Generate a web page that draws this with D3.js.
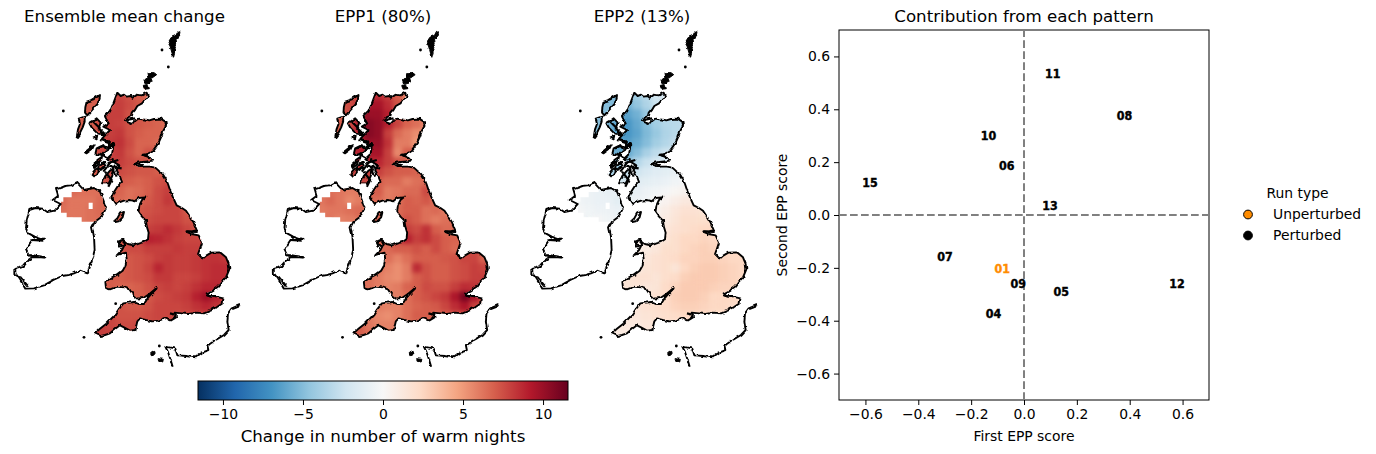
<!DOCTYPE html>
<html><head><meta charset="utf-8">
<script src="https://cdn.jsdelivr.net/npm/d3@7"></script>
<style>html,body{margin:0;background:#fff}svg{display:block}text{font-family:"DejaVu Sans",sans-serif;fill:#000}</style>
</head><body><svg id="c" width="1376" height="454"></svg>
<script>
const _ = null;
const panelTitles = ["Ensemble mean change","EPP1 (80%)","EPP2 (13%)"];
const runIds = ["01","04","05","06","07","08","09","10","11","12","13","15"];
const firstScore = [-0.082,-0.115,0.141,-0.065,-0.299,0.38,-0.022,-0.134,0.109,0.579,0.098,-0.583];
const secondScore = [-0.205,-0.375,-0.29,0.185,-0.156,0.375,-0.26,0.30,0.536,-0.26,0.034,0.124];
const scatterTicks = [-0.6,-0.4,-0.2,0,0.2,0.4,0.6];
const colorbarTicks = [-10,-5,0,5,10];
const rdbuStops = ["#053061","#2166ac","#4393c3","#92c5de","#d1e5f0","#f7f7f7","#fddbc7","#f4a582","#d6604d","#b2182b","#67001f"];

// gridded change, 19 columns by 26 rows, north to south
const meanField = [
[_,_,_,7.2,7.2,7.4,7.8,7.4,7,6.6,_,_,_,_,_,_,_,_,_],
[_,_,7,7,7.2,7.8,8,7.6,7.2,6.8,_,_,_,_,_,_,_,_,_],
[_,_,7,7,7.4,8,8,7.4,7.2,7,_,_,_,_,_,_,_,_,_],
[_,_,7,7,7.6,8,7.9,7.4,7.2,7,6.8,6.4,_,_,_,_,_,_,_],
[_,_,7,7.2,7.6,8,8.2,7.4,7,6.8,6.8,6.4,_,_,_,_,_,_,_],
[_,_,7,7.2,7.6,8.2,8.4,7.6,6.8,6.8,6.6,6.4,_,_,_,_,_,_,_],
[_,_,7,7.2,7.6,8,8.2,7.4,6.8,7.4,7.2,_,_,_,_,_,_,_,_],
[_,_,7,7.2,7.6,7.8,8,7.6,7.4,7.2,_,_,_,_,_,_,_,_,_],
[_,_,_,7,7.4,7.6,7.6,7.4,7.2,7.2,7,_,_,_,_,_,_,_,_],
[_,_,_,_,7.4,7.4,7.2,7,6.8,7,7.4,7.6,_,_,_,_,_,_,_],
[6.4,6.6,6.4,6.4,6.4,7,6.8,6.4,6.6,7,7.6,8,7.4,_,_,_,_,_,_],
[6.6,6.2,6.2,6.2,6.6,6.8,6.6,6.4,6.8,7.2,7.6,8.2,7.6,_,_,_,_,_,_],
[6.4,6.2,6.2,6.4,6.6,_,7,7,7.2,7.4,7.6,7.8,7.8,7.2,_,_,_,_,_],
[_,_,6.2,6.4,_,_,7,7,7.4,7.6,7.8,7.8,7.8,7.4,7.2,_,_,_,_],
[_,_,_,_,_,_,_,_,8,8,8.2,8.6,8.2,7.8,7.4,_,_,_,_],
[_,_,_,_,_,_,7.4,7.6,8.2,9,8.8,8.4,8,7.8,7.8,_,_,_,_],
[_,_,_,_,_,_,7.4,7.6,7.6,8,8,8,8.2,8,8,8,_,_,_],
[_,_,_,_,_,_,7.2,7.2,7.4,7.6,8,8.2,8,8,8.2,8.4,8.4,8.2,_],
[_,_,_,_,_,_,7,7.2,7.4,7.8,8.8,8.2,8,8,8.2,8.4,8.6,8.6,_],
[_,_,_,_,7,7,7,7.2,7.4,7.6,8.2,8.2,7.8,7.8,8,8.4,8.6,8.6,_],
[_,_,_,_,7,7,6.8,6.8,7,7.4,7.8,8,7.8,8,8.4,8.8,8.8,8.6,_],
[_,_,_,_,_,_,7,7,7,7.2,7.6,7.8,8,8.2,9,9.8,9,8.2,_],
[_,_,_,_,_,7.6,7.4,7.2,7.2,7.4,7.8,7.8,7.8,8,8.4,8.8,8.4,7.8,_],
[_,_,_,_,_,7.8,7.4,7.4,7.4,7.6,7.8,7.8,7.6,7.6,7.8,7.8,7.4,_,_],
[_,_,_,7.6,8,7.8,7.6,7.6,7.8,7.6,7.6,7.6,7.4,_,_,_,_,_,_],
[_,_,_,8,8,8,7.6,7.6,_,_,_,_,_,_,_,_,_,_,_]
];
const epp1Field = [
[_,_,_,7.6,7.6,8.4,8.6,8,7,5.8,_,_,_,_,_,_,_,_,_],
[_,_,7,7.6,8.2,9.6,9.6,8.6,7.4,6.4,_,_,_,_,_,_,_,_,_],
[_,_,7,7.6,8.8,10,10,9,7.8,7,_,_,_,_,_,_,_,_,_],
[_,_,7,7.6,9,10.6,10.2,9,7.8,6.8,6.4,5.6,_,_,_,_,_,_,_],
[_,_,7,8,9,10.6,10.2,8,6.6,6,5.4,5.6,_,_,_,_,_,_,_],
[_,_,7,8,9,10,10,8.4,6,6,5,5.4,_,_,_,_,_,_,_],
[_,_,7,8,9,9.6,9.6,8,5.6,7,7.4,_,_,_,_,_,_,_,_],
[_,_,7.6,8,8.6,8.8,8.8,8,7.4,6.8,_,_,_,_,_,_,_,_,_],
[_,_,_,7.6,8,8,8,7.4,7,7,6.8,_,_,_,_,_,_,_,_],
[_,_,_,_,8,7.6,7,6.6,6.6,6,6.4,6.6,_,_,_,_,_,_,_],
[6,6.4,6.2,6,6,7,7,6,6.2,6.6,6.6,7.6,6.4,_,_,_,_,_,_],
[6.2,6.6,6.2,5.6,6,6.6,6.6,6,6.4,7,6.8,7.2,6.4,_,_,_,_,_,_],
[6,6.2,6.2,6.4,6.6,_,6.8,6.6,6.6,7,7,6.4,6.6,6,_,_,_,_,_],
[_,_,5.8,6,_,_,6.8,6.6,6.6,7.4,7,6.4,6,6.4,6.6,_,_,_,_],
[_,_,_,_,_,_,_,_,7.4,8,7.6,8.4,7,6.6,6.6,_,_,_,_],
[_,_,_,_,_,_,6.6,7,8.2,9,8,8.4,7.6,7,6.8,_,_,_,_],
[_,_,_,_,_,_,6.6,6.6,7,7,7.4,7,7.6,7,6.6,6.8,_,_,_],
[_,_,_,_,_,_,5.8,6.4,5.8,6.4,7,7,7,7.2,7.4,7.8,7.8,6.8,_],
[_,_,_,_,_,_,6.4,5.8,5.4,6,8.6,7.4,7,7,7.4,7.6,8,7.8,_],
[_,_,_,_,6.4,6.4,6,5.6,5.4,6,7,7.4,7,7,7.4,7.6,8,8,_],
[_,_,_,_,6.6,6.4,6,5.8,6,6.8,7,7.6,7.4,7.4,8,8.6,8.4,7.8,_],
[_,_,_,_,_,_,6.2,6,6,6.4,7,7.4,7.8,8.2,9.4,11,9.4,7.6,_],
[_,_,_,_,_,6.6,6,5.8,5.8,6.4,6.8,7,7.2,7.8,8.6,9.4,8,7,_],
[_,_,_,_,_,6,5.6,5.4,5.8,6.4,7,7,6.8,7,7.4,7.4,6.6,_,_],
[_,_,_,6.4,7,6.2,5.8,5.8,6,6.4,6.6,6.4,6.2,_,_,_,_,_,_],
[_,_,_,7,7,6.6,6,6,_,_,_,_,_,_,_,_,_,_,_]
];
const epp2Field = [
[_,_,_,-5,-5,-4.4,-4,-3.2,-2.2,-1.8,_,_,_,_,_,_,_,_,_],
[_,_,-5,-5,-5.4,-5.6,-4.6,-3.6,-2.6,-2,_,_,_,_,_,_,_,_,_],
[_,_,-5,-5,-5.8,-6.2,-5.6,-4.4,-3.4,-2.6,_,_,_,_,_,_,_,_,_],
[_,_,-5,-5.4,-6.2,-6.8,-6,-5,-4,-3.4,-3.2,-3,_,_,_,_,_,_,_],
[_,_,-5,-5.6,-6.4,-6.8,-6.2,-5.2,-4.4,-3.6,-3.2,-3,_,_,_,_,_,_,_],
[_,_,-5,-5.6,-6.2,-6.4,-5.8,-5,-4,-3.4,-2.8,-2.6,_,_,_,_,_,_,_],
[_,_,-5,-5.4,-5.8,-6,-5,-3.8,-3,-2.4,-2,_,_,_,_,_,_,_,_],
[_,_,-4.6,-4.6,-4.8,-4.4,-3.4,-2.6,-2,-1.8,_,_,_,_,_,_,_,_,_],
[_,_,_,-4,-3.6,-2.8,-2.4,-1.8,-1.4,-1.2,-1,_,_,_,_,_,_,_,_],
[_,_,_,_,-2.4,-1.8,-1.4,-1.2,-1,-0.8,-0.4,-0.2,_,_,_,_,_,_,_],
[-0.6,-0.6,-0.8,-1,-0.8,-1.2,-1,-0.6,-0.4,-0.2,0.2,0.4,0.4,_,_,_,_,_,_],
[-0.4,-0.6,-0.8,-0.8,-1.2,-0.8,-0.6,-0.4,0,0.4,0.8,1.2,1.2,_,_,_,_,_,_],
[-0.2,-0.4,-0.6,-0.6,-0.8,_,-0.2,0,0.4,0.8,1.4,1.8,1.8,1.6,_,_,_,_,_],
[_,_,-0.2,-0.4,_,_,0,0.2,0.6,1,1.6,2,2,2,2,_,_,_,_],
[_,_,_,_,_,_,_,_,0.8,1.4,1.8,2,2.2,2.4,2.4,_,_,_,_],
[_,_,_,_,_,_,0.6,0.8,1,1.6,2,2.4,2.4,2.6,2.4,_,_,_,_],
[_,_,_,_,_,_,0.8,1,1.4,2,2,2.4,2.6,2.8,2.6,2.4,_,_,_],
[_,_,_,_,_,_,1,1.4,1.8,2,2.2,2.6,2.6,2.8,2.8,2.6,2.4,2.4,_],
[_,_,_,_,_,_,1,1.6,1.8,2,1.6,2.4,2.8,3,3,2.8,2.6,2.4,_],
[_,_,_,_,1.6,1.6,1.8,1.8,1.6,2,2.2,2.8,3,3,3,2.8,2.6,2.4,_],
[_,_,_,_,1.6,1.6,1.6,1.4,1.6,2.2,2.6,3,3,3,2.8,2.6,2.6,2.4,_],
[_,_,_,_,_,_,1.6,1.4,1.8,2.2,2.8,3,3,2.8,2.4,2.4,2.4,2.2,_],
[_,_,_,_,_,1.6,1.6,1.8,2,2.2,2.6,2.8,2.8,2.6,2.4,2.4,2.2,2,_],
[_,_,_,_,_,1.4,1.4,1.6,1.8,2,2.2,2.4,2.4,2.2,2,2,1.8,_,_],
[_,_,_,1,1.2,1.2,1.2,1.4,1.6,1.8,1.8,1.8,1.6,_,_,_,_,_,_],
[_,_,_,1,1,1,1.2,1.2,_,_,_,_,_,_,_,_,_,_,_]
];

// coastlines in map units
const greatBritain = [[352,218],[362,228],[372,224],[380,230],[392,228],[398,233],[412,224],[425,226],[440,218],[444,228],[434,240],[426,250],[412,258],[405,270],[398,278],[396,287],[384,292],[378,304],[386,308],[396,312],[406,300],[415,296],[430,298],[448,301],[462,297],[482,296],[496,305],[498,318],[490,332],[484,350],[476,368],[466,382],[456,396],[444,402],[428,404],[450,412],[456,422],[440,424],[424,426],[402,432],[416,441],[434,440],[450,440],[466,443],[476,452],[488,462],[498,478],[504,492],[510,510],[518,530],[530,556],[546,564],[558,572],[570,590],[580,606],[590,630],[576,634],[556,634],[574,642],[596,646],[606,668],[600,686],[594,702],[608,716],[620,706],[634,698],[660,697],[678,712],[686,732],[688,748],[678,772],[664,786],[654,800],[636,812],[620,820],[630,830],[646,830],[670,835],[668,850],[650,862],[632,872],[612,880],[590,878],[565,882],[545,880],[524,878],[528,892],[512,902],[492,894],[475,902],[458,904],[440,900],[420,895],[412,904],[406,930],[390,932],[372,922],[360,916],[346,926],[330,940],[315,945],[302,948],[285,940],[298,928],[318,912],[330,900],[345,885],[356,868],[370,850],[385,848],[402,846],[416,852],[432,852],[442,836],[456,818],[470,804],[448,822],[430,834],[412,836],[400,826],[388,808],[372,802],[352,800],[330,808],[318,804],[316,786],[336,772],[352,764],[368,752],[376,738],[380,718],[378,698],[362,702],[350,706],[366,690],[372,678],[358,672],[354,664],[370,660],[384,672],[400,676],[416,670],[432,666],[444,658],[446,638],[440,618],[438,602],[426,590],[416,576],[418,556],[426,540],[436,532],[416,534],[404,544],[388,540],[372,542],[360,546],[346,552],[334,534],[342,516],[352,500],[366,486],[360,470],[350,450],[358,436],[340,425],[320,420],[336,405],[340,375],[322,386],[330,366],[306,356],[330,330],[310,320],[326,310],[315,290],[330,275],[340,250]];
const northIrelandCells = [[190,532],[215,532],[215,516],[245,516],[245,508],[282,504],[300,515],[310,540],[318,565],[305,590],[285,605],[272,605],[245,605],[245,592],[200,592],[200,578],[183,578],[183,545],[190,545]];
const loughNeagh = [[266,548],[278,548],[278,567],[266,567]];
const scottishIsles = [
[[260,245],[280,238],[300,225],[298,240],[293,252],[276,270],[262,286],[255,278],[256,262]],
[[236,296],[254,290],[254,305],[248,322],[238,342],[230,352],[234,328],[240,312]],
[[268,310],[280,302],[290,295],[302,308],[296,325],[315,345],[292,340],[276,324]],
[[290,385],[310,375],[320,390],[306,405],[286,402]],
[[255,397],[268,386],[282,376],[276,388],[260,400]],
[[275,462],[286,448],[298,442],[294,458],[284,470]],
[[306,490],[316,468],[330,452],[344,444],[336,470],[326,490]],
[[292,420],[306,410],[302,425],[290,430]],
[[278,438],[288,428],[284,442]],
[[280,352],[292,348],[290,358]],
[[296,440],[312,428],[316,438],[302,450]]
];
const ireland = [[158,540],[174,528],[168,508],[184,503],[196,498],[214,496],[230,487],[242,500],[252,510],[282,504],[300,515],[310,540],[318,565],[305,590],[285,605],[276,622],[282,650],[284,690],[276,722],[268,745],[262,760],[240,752],[222,760],[205,765],[186,768],[160,780],[132,796],[102,805],[76,806],[68,792],[58,776],[46,760],[46,744],[68,738],[82,722],[96,712],[136,712],[102,706],[86,706],[78,690],[88,672],[96,660],[132,660],[104,650],[86,640],[78,626],[80,602],[88,570],[106,564],[128,566],[142,576],[164,572],[182,552]];
const manIsland = [[360,580],[372,576],[368,592],[356,604],[346,606]];
const angleseyBit = [[354,664],[370,660],[376,674],[360,680]];
const shetland = [[540,32],[534,34],[528,46],[514,52],[504,68],[510,78],[514,92],[520,112],[524,96],[522,84],[530,72],[528,56],[538,44]];
const orkney = [[[444,158],[462,158],[470,164],[456,174],[446,172]],[[432,178],[452,172],[456,186],[446,192],[434,190]],[[430,196],[444,194],[448,206],[432,208]]];
const channelIsles = [[[474,1016],[490,1018],[488,1026],[476,1024]],[[452,998],[464,994],[466,1002],[454,1004]]];
const seaLochs = [[[330,375],[345,370]],[[380,300],[405,295]],[[430,405],[452,412]],[[402,432],[430,436]],[[556,634],[590,636]],[[445,830],[470,805]],[[620,825],[650,832]],[[320,430],[355,420]],[[330,440],[360,440]],[[340,445],[350,470]],[[510,880],[530,885]],[[300,360],[330,370]],[[60,770],[85,800]],[[88,706],[135,712]],[[95,660],[130,662]],[[295,385],[345,375]],[[300,400],[325,415]],[[340,415],[310,455]],[[365,445],[325,440]],[[280,445],[300,430]],[[315,455],[335,480],[325,500]],[[280,305],[315,340]]];
const dots = [[190,273],[486,90],[505,141],[252,952],[347,851],[234,348],[478,978]];
const france = [[720,855],[695,865],[684,880],[682,905],[686,930],[672,945],[650,958],[625,975],[628,990],[606,998],[588,1012],[560,1008],[532,1006],[526,986],[496,980],[504,996],[512,1020],[518,1040]];

const svg = d3.select("#c");
const colorScale = d3.scaleLinear().domain(d3.range(11).map(i=>-11.56+i*2.312)).range(rdbuStops).clamp(true);

const defs = svg.append("defs");
const blur = defs.append("filter").attr("id","soft").attr("x","-5%").attr("y","-5%").attr("width","110%").attr("height","110%").attr("color-interpolation-filters","sRGB");
blur.append("feGaussianBlur").attr("stdDeviation",2);
const ft = blur.append("feComponentTransfer"); ft.append("feFuncA").attr("type","linear").attr("slope",4);
const rough = defs.append("filter").attr("id","rough").attr("filterUnits","userSpaceOnUse").attr("x",0).attr("y",0).attr("width",270).attr("height",380);
rough.append("feTurbulence").attr("type","fractalNoise").attr("baseFrequency",0.17).attr("numOctaves",2).attr("seed",4).attr("result","n");
rough.append("feDisplacementMap").attr("in","SourceGraphic").attr("in2","n").attr("scale",3.5).attr("xChannelSelector","R").attr("yChannelSelector","G");

const panelDx = [0,258.5,517];
const landShapes = [greatBritain,...scottishIsles,manIsland,shetland,...orkney];
const fields = [meanField,epp1Field,epp2Field];
const titleCx = [124.5,383,642];

panelDx.forEach((dx,p)=>{
  const mx = d3.scaleLinear().domain([0,780]).range([0,260]);
  const my = d3.scaleLinear().domain([0,1050]).range([20,370]);
  const line = d3.line().x(d=>mx(d[0])).y(d=>my(d[1])).curve(d3.curveLinearClosed);
  const open = d3.line().x(d=>mx(d[0])).y(d=>my(d[1]));
  const clip = defs.append("clipPath").attr("id","land"+p);
  landShapes.forEach(s=>clip.append("path").attr("d",line(s)));
  clip.append("path").attr("clip-rule","evenodd").attr("d",line(northIrelandCells)+line(loughNeagh));

  const panel = svg.append("g").attr("transform",`translate(${dx},0)`);
  const cellX = d3.scaleLinear().domain([0,19]).range([172.8,172.8+19*28.8]);
  const cellY = d3.scaleLinear().domain([0,26]).range([211.2,211.2+26*28.8]);
  const g = panel.append("g").attr("clip-path",`url(#land${p})`).append("g").attr("filter","url(#soft)");
  const cells=[];
  fields[p].forEach((row,j)=>row.forEach((v,i)=>{ if(v!==null) cells.push({i,j,v}); }));
  g.selectAll("rect").data(cells).join("rect")
    .attr("x",d=>mx(cellX(d.i))-0.2).attr("y",d=>my(cellY(d.j))-0.2)
    .attr("width",mx(28.8)-mx(0)+0.4).attr("height",my(28.8)-my(0)+0.4)
    .attr("fill",d=>colorScale(d.v));

  const coast = panel.append("g").attr("filter","url(#rough)");
  const lines = coast.append("g").attr("fill","none").attr("stroke","#000").attr("stroke-width",1.9).attr("stroke-linejoin","round");
  [greatBritain,ireland,...scottishIsles,manIsland,angleseyBit].forEach(s=>lines.append("path").attr("d",line(s)));
  lines.append("path").attr("d",open(france));
  seaLochs.forEach(s=>lines.append("path").attr("d",open(s)).attr("stroke-width",2.2));
  const solids = coast.append("g").attr("fill","#000").attr("stroke","#000").attr("stroke-width",1);
  solids.selectAll("path").data([shetland,...orkney,...channelIsles]).join("path").attr("d",line);
  panel.append("g").selectAll("circle").data(dots).join("circle").attr("cx",d=>mx(d[0])).attr("cy",d=>my(d[1])).attr("r",1.4).attr("fill","#000");
  svg.append("text").attr("x",titleCx[p]).attr("y",22).attr("text-anchor","middle").style("font-size","16.67px").text(panelTitles[p]);
});

// colour bar
const cb = d3.scaleLinear().domain([-11.56,11.56]).range([198,568]);
const grad = defs.append("linearGradient").attr("id","cbar");
rdbuStops.forEach((c,i)=>grad.append("stop").attr("offset",i/10).attr("stop-color",c));
svg.append("rect").attr("x",198).attr("y",381).attr("width",370).attr("height",19).attr("fill","url(#cbar)").attr("stroke","#000").attr("stroke-width",1);
const minus = d=>String(d).replace("-","\u2212");
const cbAxis = svg.append("g").attr("transform","translate(0,400)").call(d3.axisBottom(cb).tickValues(colorbarTicks).tickFormat(minus).tickSize(5).tickPadding(4));
cbAxis.select(".domain").remove();
cbAxis.selectAll("text").style("font-size","13.9px").style("font-family","DejaVu Sans");
svg.append("text").attr("x",383).attr("y",442).attr("text-anchor","middle").style("font-size","16.67px").text("Change in number of warm nights");

// scatter
const x = d3.scaleLinear().domain([-0.7,0.7]).range([839,1209]);
const y = d3.scaleLinear().domain([-0.7,0.7]).range([400,30]);
svg.append("rect").attr("x",839).attr("y",30).attr("width",370).attr("height",370).attr("fill","none").attr("stroke","#000").attr("stroke-width",1);
const dash = "7.7,3.3";
svg.append("line").attr("x1",x(-0.7)).attr("x2",x(0.7)).attr("y1",y(0)).attr("y2",y(0)).attr("stroke","#808080").attr("stroke-width",2).attr("stroke-dasharray",dash);
svg.append("line").attr("x1",x(0)).attr("x2",x(0)).attr("y1",y(-0.7)).attr("y2",y(0.7)).attr("stroke","#808080").attr("stroke-width",2).attr("stroke-dasharray",dash);
const fmt = d=>d3.format(".1f")(d).replace("-","\u2212");
const ax = svg.append("g").attr("transform","translate(0,400)").call(d3.axisBottom(x).tickValues(scatterTicks).tickFormat(fmt).tickSize(5).tickPadding(4));
const ay = svg.append("g").attr("transform","translate(839,0)").call(d3.axisLeft(y).tickValues(scatterTicks).tickFormat(fmt).tickSize(5).tickPadding(4));
[ax,ay].forEach(a=>{a.select(".domain").remove();a.selectAll("text").style("font-size","13.9px").style("font-family","DejaVu Sans");});
svg.append("text").attr("x",1024).attr("y",441).attr("text-anchor","middle").style("font-size","13.9px").text("First EPP score");
svg.append("text").attr("transform","translate(787,215) rotate(-90)").attr("text-anchor","middle").style("font-size","13.9px").text("Second EPP score");
svg.append("text").attr("x",1024).attr("y",22).attr("text-anchor","middle").style("font-size","16.67px").text("Contribution from each pattern");
svg.append("g").selectAll("text").data(runIds).join("text")
  .attr("x",(d,i)=>x(firstScore[i])).attr("y",(d,i)=>y(secondScore[i])).attr("dy","0.36em").attr("text-anchor","middle")
  .attr("textLength",15.5).attr("lengthAdjust","spacingAndGlyphs")
  .style("font-size","12px").style("font-weight","bold")
  .style("fill",d=>d==="01"?"#ff8c00":"#000").style("stroke",d=>d==="01"?"#ff8c00":"#000").style("stroke-width",0.4)
  .text(d=>d);

// legend
const legendNames = ["Unperturbed","Perturbed"];
const legendColors = ["#ff8c00","#000000"];
svg.append("text").attr("x",1297.5).attr("y",198).attr("text-anchor","middle").style("font-size","13.9px").text("Run type");
legendNames.forEach((n,i)=>{
  const ly = 214.5+i*21;
  svg.append("circle").attr("cx",1248).attr("cy",ly).attr("r",4.4).attr("fill",legendColors[i]).attr("stroke","#000").attr("stroke-width",1);
  svg.append("text").attr("x",1273).attr("y",ly+4.5).style("font-size","13.9px").text(n);
});
</script></body></html>
